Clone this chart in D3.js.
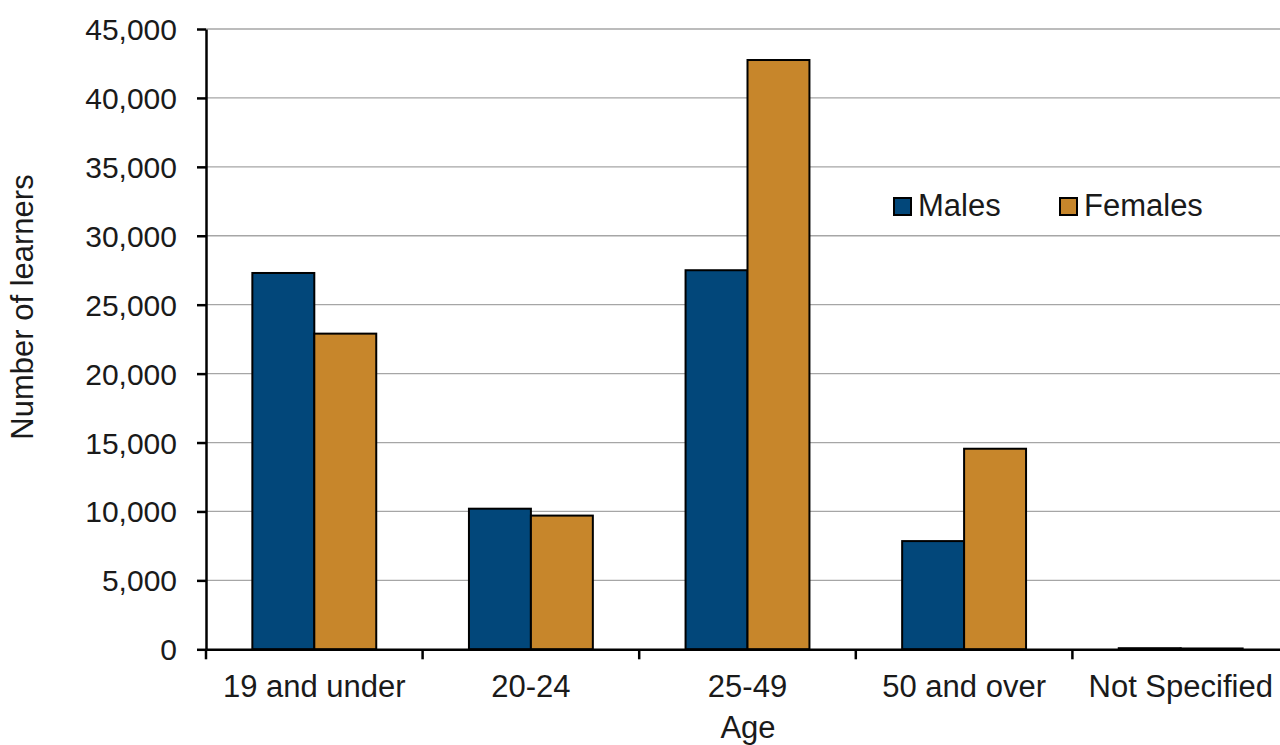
<!DOCTYPE html>
<html><head><meta charset="utf-8">
<script src="https://cdn.jsdelivr.net/npm/d3@7"></script>
<style>body{margin:0;background:#fff;} svg{display:block;font-family:"Liberation Sans",Arial,sans-serif;}</style>
</head><body>
<svg id="c" width="1280" height="745"></svg>
<script>
const categories = ["19 and under","20-24","25-49","50 and over","Not Specified"];
const seriesNames = ["Males","Females"];
const males = [27300, 10200, 27500, 7850, 80];
const females = [22900, 9700, 42750, 14550, 60];
const yTicks = [0,5000,10000,15000,20000,25000,30000,35000,40000,45000];
const colors = ["#02477a","#c7862b"];

(function(){
const svg = d3.select("#c");
const mL = 206, mR = 1289, mT = 29, mB = 649.3;
const FS = 30, FS2 = 31;
const x = d3.scaleBand().domain(categories).range([mL, mR]).paddingInner(0).paddingOuter(0);
const y = d3.scaleLinear().domain([0,45000]).range([mB, mT]);
const barW = x.bandwidth()*0.286;
const x1 = d3.scaleBand().domain(seriesNames).range([0, barW*2]);

svg.append("g").selectAll("line").data(yTicks.filter(d=>d>0)).join("line")
  .attr("x1", mL).attr("x2", mR).attr("y1", d=>y(d)).attr("y2", d=>y(d))
  .attr("stroke","#a6a6a6").attr("stroke-width",1.3);

const data = categories.map((c,i)=>({c, vals:[males[i], females[i]]}));
const g = svg.append("g");
data.forEach(d=>{
  const gx = x(d.c) + (x.bandwidth()-barW*2)/2;
  d.vals.forEach((v,j)=>{
    g.append("rect").attr("x", gx + x1(seriesNames[j])).attr("y", y(v))
     .attr("width", x1.bandwidth()).attr("height", mB - y(v))
     .attr("fill", colors[j]).attr("stroke","#000").attr("stroke-width",2);
  });
});

const yAxis = d3.axisLeft(y).tickValues(yTicks).tickSize(9).tickSizeOuter(0).tickFormat(d3.format(","));
const ya = svg.append("g").attr("transform",`translate(${mL},0)`).call(yAxis);
ya.select(".domain").attr("stroke","#000").attr("stroke-width",2.5);
ya.selectAll(".tick line").attr("stroke","#000").attr("stroke-width",2.5);
ya.selectAll("text").attr("font-size",FS).attr("fill","#1a1a1a").attr("x",-29).attr("dy","0.35em");

const xAxis = d3.axisBottom(x).tickSize(0).tickSizeOuter(0);
const xa = svg.append("g").attr("transform",`translate(0,${mB})`).call(xAxis);
xa.select(".domain").attr("stroke","#000").attr("stroke-width",2.5);
xa.selectAll("text").attr("font-size",FS2).attr("fill","#1a1a1a").attr("y",47.4).attr("dy",0);
svg.append("g").selectAll("line").data(categories).join("line")
  .attr("x1", d=>x(d)).attr("x2", d=>x(d)).attr("y1", mB).attr("y2", mB+10)
  .attr("stroke","#000").attr("stroke-width",2.5);

svg.append("text").attr("transform","translate(33,307) rotate(-90)").attr("text-anchor","middle")
  .attr("font-size",FS2).attr("fill","#1a1a1a").text("Number of learners");
svg.append("text").attr("x",748).attr("y",737.5).attr("text-anchor","middle")
  .attr("font-size",FS2).attr("fill","#1a1a1a").text("Age");

const legX = [894, 1060];
seriesNames.forEach((n,i)=>{
  svg.append("rect").attr("x",legX[i]).attr("y",198).attr("width",17).attr("height",17)
    .attr("fill",colors[i]).attr("stroke","#000").attr("stroke-width",2);
  svg.append("text").attr("x",legX[i]+24).attr("y",216).attr("font-size",FS2).attr("fill","#1a1a1a").text(n);
});
})();
</script>
</body></html>
